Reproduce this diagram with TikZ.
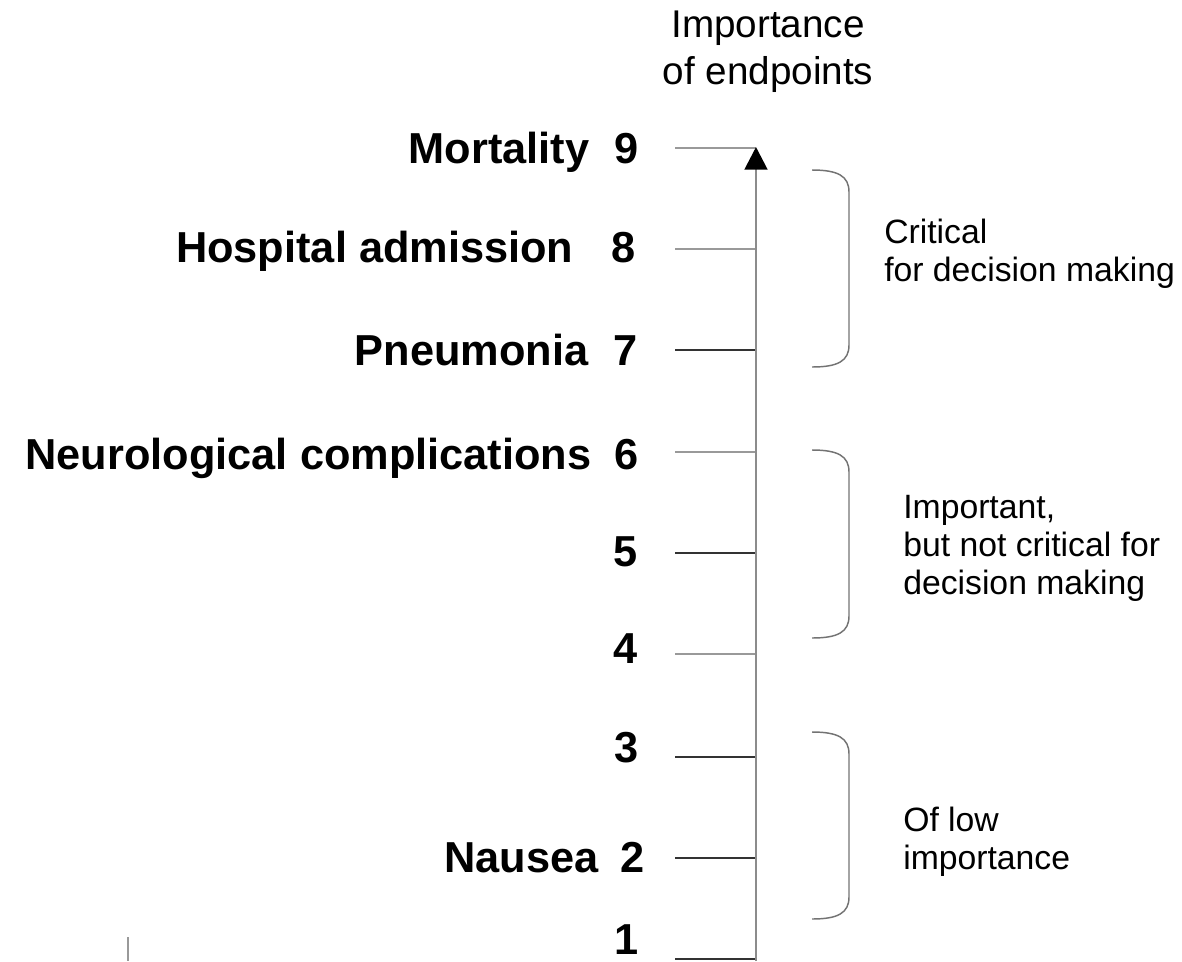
\documentclass[tikz,border=0pt]{standalone}
\usepackage{fontspec}
\setmainfont{Liberation Sans}
\usepackage{tikz}
\usetikzlibrary{arrows.meta,positioning}
\definecolor{axisgray}{rgb}{0.55,0.55,0.55}
\definecolor{lighttick}{rgb}{0.6,0.6,0.6}
\definecolor{darktick}{rgb}{0.2,0.2,0.2}
\definecolor{bracegray}{rgb}{0.45,0.45,0.45}
\tikzstyle{every num node}=[inner sep=0pt,font=\fontsize{32.5}{32.5}\bfseries\selectfont]
\tikzstyle{every end node}=[inner sep=0pt,font=\fontsize{32.5}{32.5}\bfseries\selectfont]
\tikzstyle{every group node}=[inner sep=0pt,anchor=west,align=left,font=\fontsize{25.3}{28.5}\selectfont]
\tikzstyle{every brace}=[bracegray,line width=1.1pt]

\begin{document}
\begin{tikzpicture}[x=0.75pt,y=-0.75pt]
\useasboundingbox (0,0) rectangle (1182,961);
\node[inner sep=0pt,align=center,font=\fontsize{29}{35}\selectfont] (title) at (768,52) {Importance\\of endpoints};
% scale
\coordinate (bot) at (756,961);
\coordinate (top) at (756,147);
\foreach \n/\y/\c/\nx/\ny in {9/148/lighttick/627/149,8/249/lighttick/624/248,7/350/darktick/626/351,6/452/lighttick/627/455,5/553/darktick/626/552,4/654/lighttick/626/649,3/757/darktick/627/748,2/858/darktick/633/857,1/959/darktick/627/940}{
  \coordinate (s\n) at (675,\y);
  \coordinate (t\n) at (756,\y);
  \draw[\c, line width=1.2pt] (s\n) -- (t\n);
  \node[every num node] (n\n) at (\nx,\ny) {\n};
}
\draw[axisgray, line width=2.2pt, -{Triangle[width=17pt,length=17pt,color=black]}] (bot) -- (top);
\node[every end node, base left=25 of n9] (mort) {Mortality};
\node[every end node, base left=38 of n8] (hosp) {Hospital admission};
\node[every end node, base left=25 of n7] (pneu) {Pneumonia};
\node[every end node, base left=23 of n6] (neur) {Neurological complications};
\node[every end node, base left=22 of n2] (naus) {Nausea};
% groups
\draw[every brace] (812,170) .. controls (838,170) and (849,176) .. (849,192) -- (849,345) .. controls (849,361) and (838,367) .. (812,367);
\draw[every brace] (812,450) .. controls (838,450) and (849,456) .. (849,472) -- (849,616) .. controls (849,632) and (838,638) .. (812,638);
\draw[every brace] (812,732) .. controls (838,732) and (849,738) .. (849,754) -- (849,897) .. controls (849,913) and (838,919) .. (812,919);
\node[every group node] (crit) at (884,254) {Critical\\for decision making};
\node[every group node] (impt) at (903,548) {Important,\\but not critical for\\decision making};
\node[every group node] (low) at (903,842) {Of low\\importance};
\draw[lighttick, line width=1pt] (128,937) -- (128,961);
\end{tikzpicture}
\end{document}
